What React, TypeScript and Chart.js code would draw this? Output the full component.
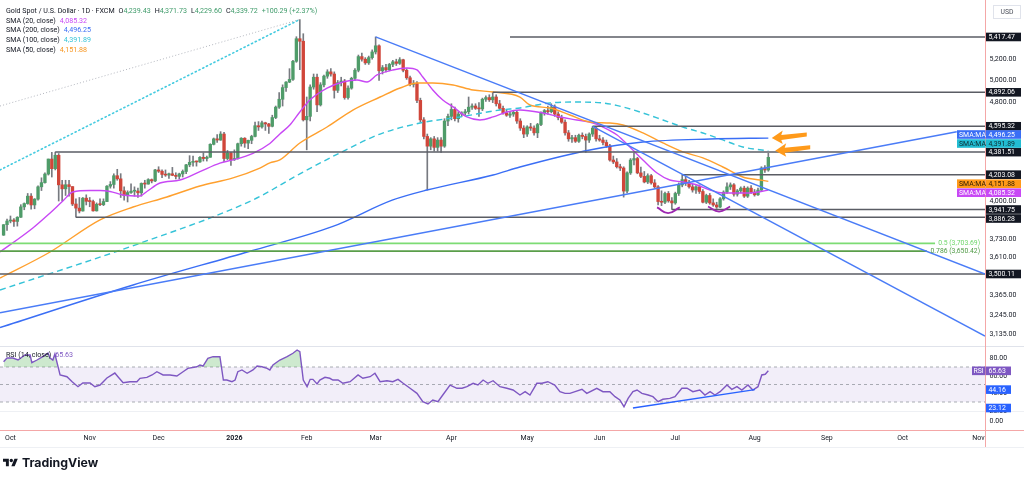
import React, { useEffect, useRef } from 'react';
import { Chart, registerables } from 'chart.js';

Chart.register(...registerables);

const FONT = 'Roboto, "Noto Sans", "DejaVu Sans", sans-serif';

// ---------------- DATA ----------------
// time axis: trading-day index of first session of each month
const monthTickIdx = [2, 25, 45, 67, 88, 108, 130, 152, 173, 195, 218, 239, 261, 283];
const monthTickLabels = ['Oct', 'Nov', 'Dec', '2026', 'Feb', 'Mar', 'Apr', 'May', 'Jun', 'Jul', 'Aug', 'Sep', 'Oct', 'Nov'];

// daily candles (Sep 29 2025 .. Aug 7 2026): [open, high, low, close]
const ohlc = [
  [3760, 3834, 3758, 3833], [3833, 3872, 3793, 3859], [3859, 3895, 3846, 3866], [3866, 3876, 3820, 3856], [3856, 3890, 3823, 3886],
  [3886, 3977, 3884, 3961], [3961, 3990, 3940, 3985], [3985, 4060, 3980, 4040], [4040, 4059, 3945, 3975], [3975, 4022, 3947, 4018],
  [4018, 4117, 4010, 4110], [4110, 4179, 4082, 4142], [4142, 4218, 4138, 4208], [4208, 4326, 4200, 4326], [4326, 4380, 4185, 4250],
  [4250, 4381.51, 4240, 4356], [4356, 4370, 4004, 4125], [4125, 4160, 4004, 4095], [4095, 4160, 4045, 4126], [4126, 4160, 4040, 4112],
  [4112, 4112, 3970, 3982], [3982, 4020, 3886.28, 3952], [3952, 4030, 3917, 3931], [3931, 4030, 3930, 4025], [4025, 4050, 3975, 4002],
  [4002, 4030, 3962, 4000], [4000, 4010, 3930, 3932], [3932, 3990, 3930, 3980], [3980, 4020, 3970, 3977], [3977, 4020, 3970, 4000],
  [4000, 4120, 4000, 4115], [4115, 4150, 4100, 4128], [4128, 4210, 4100, 4195], [4195, 4245, 4160, 4171], [4171, 4211, 4030, 4080],
  [4080, 4110, 4010, 4045], [4045, 4080, 3997, 4067], [4067, 4133, 4060, 4077], [4077, 4110, 4040, 4078], [4078, 4100, 4030, 4065],
  [4065, 4140, 4040, 4136], [4136, 4160, 4100, 4131], [4131, 4172, 4130, 4165], [4165, 4170, 4140, 4155], [4155, 4245, 4150, 4240],
  [4240, 4265, 4220, 4230], [4230, 4240, 4180, 4205], [4205, 4240, 4190, 4200], [4200, 4215, 4175, 4210], [4210, 4260, 4195, 4198],
  [4198, 4218, 4170, 4190], [4190, 4215, 4170, 4209], [4209, 4240, 4185, 4228], [4228, 4285, 4210, 4280], [4280, 4353, 4265, 4300],
  [4300, 4350, 4270, 4305], [4305, 4310, 4270, 4303], [4303, 4345, 4300, 4340], [4340, 4375, 4310, 4330], [4330, 4350, 4310, 4340],
  [4340, 4450, 4340, 4445], [4445, 4497, 4440, 4490], [4490, 4525, 4460, 4480], [4480, 4550, 4478, 4530], [4530, 4545, 4305, 4330],
  [4330, 4395, 4320, 4375], [4375, 4380, 4275, 4320], [4320, 4400, 4315, 4330], [4330, 4455, 4325, 4450], [4450, 4500, 4430, 4495],
  [4495, 4500, 4420, 4455], [4455, 4480, 4410, 4478], [4478, 4520, 4450, 4510], [4510, 4630, 4505, 4600], [4600, 4635, 4560, 4590],
  [4590, 4640, 4580, 4625], [4625, 4630, 4560, 4615], [4615, 4620, 4535, 4595], [4595, 4690, 4590, 4670], [4670, 4770, 4660, 4760],
  [4760, 4890, 4750, 4830], [4830, 4960, 4770, 4935], [4935, 4990, 4900, 4985], [4985, 5110, 4980, 5010], [5010, 5190, 5000, 5180],
  [5180, 5420, 5170, 5400], [5400, 5595, 5100, 5375], [5375, 5450, 4640, 4650],
  [4650, 4850, 4400, 4680], [4680, 4960, 4640, 4940], [4940, 5060, 4920, 5030], [5030, 5060, 4720, 4780], [4780, 4980, 4770, 4960],
  [4960, 5050, 4940, 5040], [5040, 5100, 5020, 5080], [5080, 5110, 5040, 5060], [5060, 5080, 4840, 4910], [4910, 5000, 4890, 4980],
  [4980, 5030, 4950, 4995], [4995, 5010, 4830, 4845], [4845, 4950, 4830, 4930], [4930, 5030, 4920, 5020], [5020, 5110, 5000, 5095],
  [5095, 5240, 5080, 5225], [5225, 5260, 5180, 5200], [5200, 5215, 5150, 5165], [5165, 5230, 5150, 5215], [5215, 5290, 5200, 5270],
  [5270, 5417.47, 5250, 5330], [5330, 5340, 5000, 5090], [5090, 5140, 5060, 5120], [5120, 5150, 5080, 5100], [5100, 5160, 5090, 5150],
  [5150, 5190, 5130, 5175], [5175, 5200, 5140, 5160], [5160, 5215, 5150, 5195], [5195, 5200, 5080, 5095], [5095, 5110, 5010, 5025],
  [5025, 5040, 4950, 4965], [4965, 5000, 4940, 4975], [4975, 4990, 4800, 4820], [4820, 4840, 4630, 4650], [4650, 4670, 4490, 4510],
  [4510, 4530, 4086, 4430], [4430, 4500, 4400, 4490], [4490, 4510, 4390, 4420], [4420, 4500, 4390, 4480], [4480, 4500, 4380, 4430],
  [4430, 4660, 4420, 4640], [4640, 4700, 4600, 4680], [4680, 4790, 4650, 4740], [4740, 4760, 4640, 4660], [4660, 4720, 4630, 4700],
  [4700, 4720, 4680, 4710], [4710, 4740, 4690, 4720], [4720, 4850, 4700, 4760], [4760, 4790, 4740, 4770], [4770, 4790, 4740, 4750],
  [4750, 4800, 4680, 4745], [4745, 4840, 4730, 4830], [4830, 4860, 4810, 4845], [4845, 4870, 4810, 4825], [4825, 4892.06, 4800, 4850],
  [4850, 4870, 4770, 4790], [4790, 4820, 4740, 4750], [4750, 4770, 4700, 4710], [4710, 4740, 4680, 4690], [4690, 4720, 4670, 4700],
  [4700, 4730, 4680, 4715], [4715, 4730, 4620, 4640], [4640, 4660, 4560, 4580], [4580, 4600, 4500, 4530], [4530, 4600, 4510, 4590],
  [4590, 4620, 4560, 4580], [4580, 4600, 4520, 4540], [4540, 4620, 4500, 4610], [4610, 4720, 4600, 4710], [4710, 4740, 4690, 4730],
  [4730, 4770, 4700, 4720], [4720, 4790, 4710, 4760], [4760, 4780, 4680, 4700], [4700, 4720, 4650, 4670], [4670, 4690, 4620, 4630],
  [4630, 4650, 4520, 4540], [4540, 4560, 4470, 4490], [4490, 4520, 4460, 4500], [4500, 4520, 4460, 4470], [4470, 4530, 4460, 4520],
  [4520, 4540, 4490, 4510], [4510, 4530, 4380, 4480], [4480, 4540, 4460, 4530], [4530, 4595.32, 4510, 4580], [4580, 4590, 4470, 4490],
  [4490, 4520, 4470, 4480], [4480, 4500, 4440, 4460], [4460, 4480, 4420, 4432], [4432, 4445, 4310, 4318], [4318, 4350, 4290, 4303],
  [4303, 4330, 4255, 4265], [4265, 4285, 4235, 4255], [4255, 4265, 4033, 4078], [4078, 4225, 4065, 4217], [4217, 4330, 4205, 4318],
  [4318, 4375, 4280, 4330], [4330, 4340, 4210, 4217], [4217, 4262, 4180, 4190], [4190, 4228, 4140, 4147], [4147, 4210, 4135, 4195],
  [4195, 4205, 4130, 4140], [4140, 4165, 4100, 4110], [4110, 4120, 3975, 4000], [4000, 4080, 3970, 3995], [3995, 4070, 3985, 4060],
  [4060, 4075, 3995, 4005], [4005, 4030, 3941.75, 3990], [3990, 4070, 3980, 4060], [4060, 4140, 4045, 4124], [4124, 4203.08, 4110, 4165],
  [4165, 4190, 4120, 4140], [4140, 4160, 4100, 4110], [4110, 4130, 4070, 4086], [4086, 4120, 4060, 4110], [4110, 4125, 4060, 4075],
  [4075, 4090, 3990, 3995], [3995, 4055, 3985, 4045], [4045, 4060, 3980, 3990], [3990, 4020, 3965, 3975], [3975, 3995, 3950, 3960],
  [3960, 4030, 3955, 4020], [4020, 4080, 4010, 4070], [4070, 4140, 4060, 4110], [4110, 4140, 4090, 4125], [4125, 4135, 4040, 4055],
  [4055, 4090, 4040, 4080], [4080, 4110, 4065, 4100], [4100, 4115, 4030, 4040], [4040, 4110, 4030, 4100], [4100, 4120, 4060, 4070],
  [4070, 4090, 4040, 4050], [4050, 4100, 4045, 4085], [4085, 4265, 4075, 4255], [4255, 4275, 4220, 4239.43], [4239.43, 4371.73, 4229.6, 4339.72],
];

// moving averages: [session index, value]
const sma20 = [[-1.04, 3645], [8.5, 3810], [13.5, 3917], [17.2, 4004], [20.1, 4071], [25.1, 4082], [28, 4082], [30.9, 4075], [34.7, 4049], [39.6, 4041], [41.6, 4075], [45.4, 4139], [51.2, 4162], [57, 4227], [62.8, 4294], [66.6, 4319], [72.4, 4372], [77.3, 4452], [80.2, 4530], [83.1, 4606], [86, 4718], [88.9, 4823], [93.9, 4931], [98.5, 4986], [102.6, 5005], [105.5, 4986], [108.4, 5051], [113, 5098], [117.1, 5116], [120, 5098], [121.7, 5032], [124.6, 4913], [127.5, 4823], [130.5, 4762], [134.5, 4675], [138.3, 4649], [142.1, 4675], [146.1, 4718], [149.9, 4735], [156.6, 4709], [161.5, 4675], [166.4, 4649], [171.1, 4623], [174, 4589], [178.1, 4522], [181.8, 4423], [185.6, 4319], [189.7, 4216], [193.4, 4162], [197.2, 4147], [201.3, 4124], [205.1, 4086], [208.8, 4064], [212.9, 4064], [216.7, 4064], [222, 4085.32]];
const sma50 = [[-1.04, 3474], [13.5, 3645], [28, 3867], [37.6, 3960], [47.4, 4034], [57, 4116], [66.6, 4178], [74.4, 4255], [77.3, 4295], [80.2, 4319], [86, 4456], [93.9, 4589], [101.4, 4735], [109.3, 4850], [115.1, 4931], [120, 4977], [124.6, 4977], [130.5, 4959], [136.3, 4913], [142.1, 4895], [149.9, 4850], [152.8, 4779], [158.6, 4753], [164.4, 4692], [170.2, 4632], [176, 4623], [179.8, 4606], [185.6, 4539], [191.4, 4456], [197.2, 4383], [203, 4335], [208.8, 4263], [214.6, 4185], [219.6, 4162], [222, 4151.88]];
const sma100 = [[-1.04, 3398], [39.6, 3704], [72.4, 4012], [86, 4209], [97.6, 4375], [109.3, 4530], [120.9, 4623], [132.5, 4675], [144.1, 4735], [149.9, 4753], [158.6, 4797], [166.4, 4805], [174, 4797], [179.8, 4762], [185.6, 4709], [191.4, 4649], [197.2, 4589], [203, 4539], [208.8, 4481], [214.6, 4423], [222, 4391.89]];
const sma200 = [[-1.04, 3171], [37.6, 3430], [71.5, 3650], [95.6, 3821], [113, 4012], [122.9, 4086], [142.1, 4201], [149.9, 4263], [170.2, 4399], [185.6, 4464], [205.1, 4489], [222, 4496.25]];

// drawings
const trendDown1 = [[108, 5417.47], [284.9, 3500.11]];
const trendDown2 = [[171, 4595.32], [284.9, 3122]];
const trendUp = [[-1.04, 3259], [276.7, 4549]];
const dottedCyan = [[-1.04, 4240], [86, 5595]];
const dottedGray = [[-1.04, 4770], [86, 5595]];
const levelPrices = [5417.47, 4892.06, 4595.32, 4381.51, 4203.08, 3941.75, 3886.28, 3500.11];
const levelStarts = [147, 142, 171, 15, 197, 194, 21, -1.04];
const fibPrices = [3703.69, 3650.42];
const fibLabels = ['0.5 (3,703.69)', '0.786 (3,650.42)'];
const fibEnds = [270.4, 268];
const arcLeft = [[189.7, 3957], [192.9, 3916], [196.3, 3957]];
const arcRight = [[204.5, 3964], [207.7, 3927], [210.9, 3964]];
const arrowTips = [[223, 4496.25], [224, 4391.89]];

// RSI (14)
const rsi = [[0, 76], [1, 80.3], [2.7, 80.3], [4.2, 78], [6.2, 83.7], [7.7, 83.7], [8.2, 74.9], [9.7, 78], [11.4, 81.8], [12.9, 86], [13.5, 80.3], [14.3, 78], [14.9, 84.9], [16.4, 60.9], [18.4, 58.9], [19.9, 53.2], [21.6, 47.5], [23, 51.7], [25.1, 51.7], [26.5, 47.5], [28, 49.4], [30, 57.4], [32.3, 63.1], [33.2, 58.9], [34.7, 52.1], [36.7, 53.2], [38.7, 53.2], [39.6, 57.1], [41.6, 58.2], [43.1, 60.9], [44.5, 64.6], [46.3, 60.9], [48.3, 60.9], [50.3, 59.7], [52.1, 64.6], [53.5, 68.5], [56.1, 70.3], [57, 72.3], [57.9, 71.1], [59.3, 79.9], [60.8, 81.8], [62.8, 81.8], [63.8, 55.1], [64.8, 55.1], [66.3, 53.2], [67.2, 55.1], [68, 64.6], [69.2, 66.6], [70.7, 62.8], [72.4, 66.6], [73.6, 71.1], [75, 70.3], [76.5, 68.5], [77.3, 66.6], [78.2, 72.3], [80.2, 78], [82.3, 81.8], [84, 85.7], [85.2, 89.4], [86, 87.5], [87, 55.1], [88.1, 47.5], [89, 55.9], [89.8, 55.9], [91, 50.6], [91.8, 55.1], [93.3, 58.2], [94.7, 57.1], [95.6, 55.1], [97.1, 55.1], [98.5, 51.4], [100.6, 53.2], [102.9, 60.9], [104.3, 57.1], [106.4, 58.9], [107.8, 62.8], [109.3, 53.2], [111.3, 54.3], [113, 53.2], [114.5, 55.9], [116, 51.4], [118, 45.7], [120, 39.9], [121.7, 30.3], [123.2, 27.7], [124.6, 32.3], [126.1, 30.3], [127.5, 38], [129.6, 49.4], [131.6, 45.7], [133.1, 45.7], [134.5, 47.5], [136.3, 51.4], [137.7, 49.4], [139.2, 55.1], [140.6, 51.4], [142.1, 54.3], [144.1, 47.5], [146.1, 45.7], [147.9, 43.7], [149.9, 38], [151.4, 41.8], [152.8, 38], [154.8, 51.4], [156.3, 51.4], [158, 53.2], [160, 49.4], [161.5, 41.8], [163, 39.9], [164.4, 39.9], [165.9, 41.8], [167.9, 44.5], [169.3, 39.9], [172.2, 45.7], [174, 41.8], [176, 41.8], [177.5, 36.1], [178.9, 32.3], [180.1, 24.6], [181.3, 34.2], [182.7, 41.8], [183.9, 43.7], [185.3, 39.9], [187.1, 38], [188.5, 36.1], [190, 30.3], [191.4, 33.1], [193.4, 34.2], [194.9, 36.1], [196.9, 45.7], [198.4, 45.7], [200.1, 41.8], [202.1, 43.7], [203.6, 38], [205.1, 41.8], [206.5, 38], [208, 41.8], [210, 49.4], [211.4, 44.5], [212.9, 47.5], [214.3, 43.7], [216.1, 49.4], [217.5, 43.7], [219, 47.5], [220.1, 60.9], [221.1, 61.7], [222, 65.63]];
const rsiTrend = [[182.7, 23.12], [218.1, 44.16]];
const rsiBands = [70, 50, 30];

// axis tick labels
const priceTicks = [5200, 5000, 4800, 4000, 3730, 3610, 3365, 3245, 3135];
const rsiTicks = [80, 60, 40, 20, 0];

// legend
const symbolTitle = 'Gold Spot / U.S. Dollar · 1D · FXCM';
const smaNames = ['SMA (20, close)', 'SMA (200, close)', 'SMA (100, close)', 'SMA (50, close)'];

// ---------------- STYLE / LAYOUT ----------------
const C_UP = '#4f9c69';
const C_DN = '#d0463a';
const C_WICK = '#777a80';
const C20 = '#c848f5';
const C50 = '#ffa02e';
const C100 = '#35c3d8';
const C200 = '#3a6ef5';
const C_TREND = '#4a7cf7';
const C_LEVEL = '#5a5d64';
const C_RSI = '#7e57c2';
const X_MIN = -1.04;
const X_MAX = 284.9;
const PRICE_MIN = 2625.5;
const PRICE_MAX = 5799.4;
const RSI_MIN = -2;
const RSI_MAX = 489.43;
const PANE_SPLIT = 346;

const fmt = (n: number) => n.toLocaleString('en-US', { minimumFractionDigits: 2, maximumFractionDigits: 2 });
const pts = (arr: number[][]) => arr.map(([x, y]) => ({ x, y }));
const lastOf = (arr: number[][]) => arr[arr.length - 1][1];

function line(data: number[][], color: string, width: number, extra: any = {}) {
  return {
    type: 'line',
    data: pts(data),
    borderColor: color,
    borderWidth: width,
    pointRadius: 0,
    fill: false,
    tension: 0,
    yAxisID: 'y',
    order: 3,
    ...extra,
  };
}

function drawArrow(ctx: CanvasRenderingContext2D, tx: number, ty: number) {
  ctx.beginPath();
  ctx.moveTo(tx, ty);
  ctx.lineTo(tx + 11, ty - 7.5);
  ctx.lineTo(tx + 9.5, ty - 3);
  ctx.lineTo(tx + 35, ty - 5.5);
  ctx.lineTo(tx + 35, ty - 1.5);
  ctx.lineTo(tx + 9.5, ty + 1.8);
  ctx.lineTo(tx + 11, ty + 6);
  ctx.closePath();
  ctx.fillStyle = '#ff9a1a';
  ctx.fill();
}

const overlayPlugin = {
  id: 'tvOverlay',
  beforeDraw(chart: any) {
    const { ctx, width, height } = chart;
    ctx.save();
    ctx.fillStyle = '#ffffff';
    ctx.fillRect(0, 0, width, height);
    ctx.strokeStyle = '#e0e3eb';
    ctx.lineWidth = 1;
    ctx.beginPath();
    ctx.moveTo(0, PANE_SPLIT + 0.5);
    ctx.lineTo(width, PANE_SPLIT + 0.5);
    ctx.stroke();
    const y20 = Math.round(chart.scales.yR.getPixelForValue(20)) + 0.5;
    ctx.strokeStyle = '#eef0f4';
    ctx.beginPath();
    ctx.moveTo(0, y20);
    ctx.lineTo(width, y20);
    ctx.stroke();
    ctx.beginPath();
    ctx.moveTo(0, 447.5);
    ctx.lineTo(width, 447.5);
    ctx.stroke();
    ctx.restore();
  },
  afterDraw(chart: any) {
    const { ctx, scales, chartArea, width } = chart;
    const xS = scales.x;
    const yP = scales.y;
    const yR = scales.yR;
    const right = chartArea.right;
    ctx.save();

    // frame lines
    ctx.strokeStyle = '#f4a7a7';
    ctx.lineWidth = 1;
    ctx.beginPath();
    ctx.moveTo(right + 0.5, 0);
    ctx.lineTo(right + 0.5, 447);
    ctx.stroke();
    ctx.beginPath();
    ctx.moveTo(0, chartArea.bottom + 0.5);
    ctx.lineTo(width, chartArea.bottom + 0.5);
    ctx.stroke();

    // fib labels
    ctx.font = `6.8px ${FONT}`;
    ctx.textBaseline = 'middle';
    ctx.textAlign = 'right';
    const fibColors = ['#6ed66a', '#4f9a45'];
    fibPrices.forEach((p, k) => {
      ctx.fillStyle = fibColors[k];
      ctx.fillText(fibLabels[k], right - 5, yP.getPixelForValue(p));
    });

    // orange arrows
    arrowTips.forEach(([i, p]) => drawArrow(ctx, xS.getPixelForValue(i), yP.getPixelForValue(p)));

    // right axis ticks
    ctx.textAlign = 'left';
    ctx.font = `7px ${FONT}`;
    ctx.fillStyle = '#131722';
    priceTicks.forEach((v) => ctx.fillText(fmt(v), right + 4.5, yP.getPixelForValue(v)));
    rsiTicks.forEach((v) => ctx.fillText(fmt(v), right + 4.5, Math.min(yR.getPixelForValue(v), 421)));

    // price labels with collision handling
    const H = 9;
    const labs: any[] = [];
    levelPrices.forEach((v) => labs.push({ v, y: yP.getPixelForValue(v), fixed: true, bg: '#131722', fg: '#ffffff' }));
    const smaEnds = [lastOf(sma200), lastOf(sma100), lastOf(sma50), lastOf(sma20)];
    const smaBg = [C200, '#22bcd2', '#ff9a1a', C20];
    const smaFg = ['#ffffff', '#0d2b30', '#2a1a00', '#ffffff'];
    smaEnds.forEach((v, k) => labs.push({ v, y: yP.getPixelForValue(v), fixed: false, bg: smaBg[k], fg: smaFg[k], tag: 'SMA:MA' }));
    const fixedL = labs.filter((l) => l.fixed).sort((a, b) => a.y - b.y);
    for (let k = 1; k < fixedL.length; k++) if (fixedL[k].y < fixedL[k - 1].y + H) fixedL[k].y = fixedL[k - 1].y + H;
    const mov = labs.filter((l) => !l.fixed);
    for (let it = 0; it < 400; it++) {
      for (const m of mov) {
        for (const o of labs) {
          if (o === m) continue;
          const d = m.y - o.y;
          if (Math.abs(d) < H - 1e-4) {
            const s = d > 0 ? 1 : d < 0 ? -1 : m.v < o.v ? 1 : -1;
            if (o.fixed) m.y = o.y + s * H;
            else {
              const ov = (H - Math.abs(d)) / 2;
              m.y += s * ov;
              o.y -= s * ov;
            }
          }
        }
      }
    }
    ctx.font = `6.9px ${FONT}`;
    labs.forEach((l) => {
      ctx.fillStyle = l.bg;
      ctx.fillRect(right + 1, l.y - 4.3, 35, 8.6);
      ctx.fillStyle = l.fg;
      ctx.fillText(fmt(l.v), right + 3.5, l.y + 0.3);
      if (l.tag) {
        ctx.fillStyle = l.bg;
        ctx.fillRect(right - 28, l.y - 4.3, 28.5, 8.6);
        ctx.fillStyle = l.fg;
        ctx.fillText(l.tag, right - 26, l.y + 0.3);
      }
    });

    // RSI axis boxes
    const rsiBoxes = [
      { v: lastOf(rsi), bg: C_RSI, tag: 'RSI' },
      { v: rsiTrend[1][1], bg: '#2962ff' },
      { v: rsiTrend[0][1], bg: '#2962ff' },
    ];
    rsiBoxes.forEach((b: any) => {
      const y = yR.getPixelForValue(b.v);
      ctx.fillStyle = b.bg;
      ctx.fillRect(right + 1, y - 4.3, 25, 8.6);
      ctx.fillStyle = '#ffffff';
      ctx.fillText(fmt(b.v), right + 3.5, y + 0.3);
      if (b.tag) {
        ctx.fillStyle = b.bg;
        ctx.fillRect(right - 13, y - 4.3, 13.5, 8.6);
        ctx.fillStyle = '#ffffff';
        ctx.fillText(b.tag, right - 11.5, y + 0.3);
      }
    });

    // time axis
    ctx.textAlign = 'center';
    monthTickIdx.forEach((i, k) => {
      ctx.font = monthTickLabels[k] === '2026' ? `bold 7px ${FONT}` : `7px ${FONT}`;
      ctx.fillStyle = '#131722';
      ctx.fillText(monthTickLabels[k], xS.getPixelForValue(i), 438.5);
    });

    // USD box
    ctx.strokeStyle = '#e0e3eb';
    ctx.strokeRect(993.5, 5.5, 27, 13);
    ctx.font = `6.8px ${FONT}`;
    ctx.fillStyle = '#4a4e59';
    ctx.fillText('USD', 1007, 12.3);

    // legend
    ctx.textAlign = 'left';
    ctx.font = `7.1px ${FONT}`;
    const last = ohlc[ohlc.length - 1];
    const prevClose = ohlc[ohlc.length - 2][3];
    const chg = last[3] - prevClose;
    const green = '#3f9b6a';
    let x = 6;
    const y = 11.5;
    ctx.fillStyle = '#131722';
    ctx.fillText(symbolTitle, x, y);
    x += ctx.measureText(symbolTitle).width + 4;
    ['O', 'H', 'L', 'C'].forEach((letter, k) => {
      ctx.fillStyle = '#131722';
      ctx.fillText(letter, x, y);
      x += ctx.measureText(letter).width;
      ctx.fillStyle = green;
      const s = fmt(last[k]);
      ctx.fillText(s, x, y);
      x += ctx.measureText(s).width + 4;
    });
    ctx.fillStyle = green;
    ctx.fillText(`+${fmt(chg)} (+${fmt((chg / prevClose) * 100)}%)`, x, y);

    const smaVals = [lastOf(sma20), lastOf(sma200), lastOf(sma100), lastOf(sma50)];
    const smaCols = [C20, C200, C100, '#f7941d'];
    smaNames.forEach((nm, k) => {
      const yy = 21 + k * 9.7;
      ctx.fillStyle = '#131722';
      ctx.fillText(nm, 6, yy);
      ctx.fillStyle = smaCols[k];
      ctx.fillText(fmt(smaVals[k]), 6 + ctx.measureText(nm).width + 4, yy);
    });

    // RSI legend
    const rsiName = 'RSI (14, close)';
    ctx.fillStyle = '#131722';
    ctx.fillText(rsiName, 6, 355);
    ctx.fillStyle = C_RSI;
    ctx.fillText(fmt(lastOf(rsi)), 6 + ctx.measureText(rsiName).width + 4, 355);

    ctx.restore();
  },
};

export default function App() {
  const ref = useRef<HTMLCanvasElement>(null);
  useEffect(() => {
    const canvas = ref.current;
    if (!canvas) return;

    const bodyColors = ohlc.map((c) => (c[3] >= c[0] ? C_UP : C_DN));
    const datasets: any[] = [
      {
        type: 'bar',
        data: ohlc.map((c, i) => ({ x: i, y: [c[0], c[3]] })),
        backgroundColor: bodyColors,
        borderWidth: 0,
        barThickness: 2.7,
        minBarLength: 1,
        grouped: false,
        yAxisID: 'y',
        order: 10,
      },
      {
        type: 'bar',
        data: ohlc.map((c, i) => ({ x: i, y: [c[2], c[1]] })),
        backgroundColor: C_WICK,
        borderWidth: 0,
        barThickness: 1,
        grouped: false,
        yAxisID: 'y',
        order: 11,
      },
      line(sma200, C200, 1.4, { cubicInterpolationMode: 'monotone', order: 2 }),
      line(sma100, C100, 1.4, { cubicInterpolationMode: 'monotone', borderDash: [6, 4], order: 2 }),
      line(sma50, C50, 1.4, { cubicInterpolationMode: 'monotone', order: 2 }),
      line(sma20, C20, 1.4, { cubicInterpolationMode: 'monotone', order: 2 }),
      line(dottedGray, '#b5b8c0', 1, { borderDash: [1, 2.2], order: 4 }),
      line(dottedCyan, '#44cbe0', 1.6, { borderDash: [1.2, 3], borderCapStyle: 'round', order: 4 }),
      line(trendDown1, C_TREND, 1.4, { order: 1 }),
      line(trendDown2, C_TREND, 1.4, { order: 1 }),
      line(trendUp, C_TREND, 1.4, { order: 1 }),
      line(arcLeft, '#9c27b0', 1.8, { tension: 0.5, order: 1 }),
      line(arcRight, '#9c27b0', 1.8, { tension: 0.5, order: 1 }),
    ];
    levelPrices.forEach((p, k) => {
      datasets.push(line([[levelStarts[k], p], [X_MAX, p]], C_LEVEL, 1.5, { order: 1 }));
    });
    const fibCols = ['#7ddc74', '#5a9e4a'];
    fibPrices.forEach((p, k) => {
      datasets.push(line([[X_MIN, p], [fibEnds[k], p]], fibCols[k], 1.8, { order: 1 }));
    });
    // RSI pane
    datasets.push({
      type: 'line',
      data: pts([[X_MIN, rsiBands[2]], [X_MAX, rsiBands[2]]]),
      borderColor: '#9598a1',
      borderWidth: 0.8,
      borderDash: [3, 3],
      pointRadius: 0,
      fill: { target: { value: rsiBands[0] }, above: 'rgba(126,87,194,0.10)', below: 'rgba(126,87,194,0.10)' },
      yAxisID: 'yR',
      order: 20,
    });
    [rsiBands[0], rsiBands[1]].forEach((b) => {
      datasets.push({
        type: 'line',
        data: pts([[X_MIN, b], [X_MAX, b]]),
        borderColor: '#9598a1',
        borderWidth: 0.8,
        borderDash: [3, 3],
        pointRadius: 0,
        fill: false,
        yAxisID: 'yR',
        order: 19,
      });
    });
    datasets.push({
      type: 'line',
      data: pts(rsi),
      borderColor: C_RSI,
      borderWidth: 1.4,
      pointRadius: 0,
      tension: 0,
      fill: { target: { value: rsiBands[0] }, above: 'rgba(76,175,80,0.28)', below: 'rgba(0,0,0,0)' },
      yAxisID: 'yR',
      order: 5,
    });
    datasets.push({
      type: 'line',
      data: pts(rsiTrend),
      borderColor: '#2962ff',
      borderWidth: 1.4,
      pointRadius: 0,
      fill: false,
      yAxisID: 'yR',
      order: 4,
    });

    const chart = new Chart(canvas, {
      type: 'bar',
      data: { datasets },
      options: {
        animation: false,
        responsive: false,
        maintainAspectRatio: false,
        events: [],
        layout: { padding: { left: 0, top: 0, right: 39, bottom: 49 } },
        plugins: { legend: { display: false }, tooltip: { enabled: false } },
        scales: {
          x: { type: 'linear', min: X_MIN, max: X_MAX, offset: false, display: false, bounds: 'data', grid: { display: false } },
          y: { type: 'logarithmic', min: PRICE_MIN, max: PRICE_MAX, display: false, bounds: 'data' },
          yR: { type: 'linear', min: RSI_MIN, max: RSI_MAX, display: false, bounds: 'data' },
        },
      } as any,
      plugins: [overlayPlugin as any],
    } as any);
    return () => chart.destroy();
  }, []);

  return (
    <div style={{ position: 'fixed', left: 0, top: 0, width: 1024, height: 479, background: '#ffffff', overflow: 'hidden' }}>
      <canvas ref={ref} width={1024} height={479} style={{ display: 'block', width: 1024, height: 479 }} />
      <div
        style={{
          position: 'absolute',
          left: 3,
          top: 456,
          display: 'flex',
          alignItems: 'center',
          gap: 4,
          fontFamily: 'Inter, Roboto, sans-serif',
          fontWeight: 700,
          fontSize: 12.3,
          color: '#131722',
          lineHeight: '14px',
        }}
      >
        <svg width="15" height="12" viewBox="0 0 36 28">
          <path d="M14 22H7V11H0V4h14v18zM28 22h-8l7.5-18h8L28 22z" fill="#131722" />
          <circle cx="20" cy="8" r="4" fill="#131722" />
        </svg>
        <span>TradingView</span>
      </div>
    </div>
  );
}
